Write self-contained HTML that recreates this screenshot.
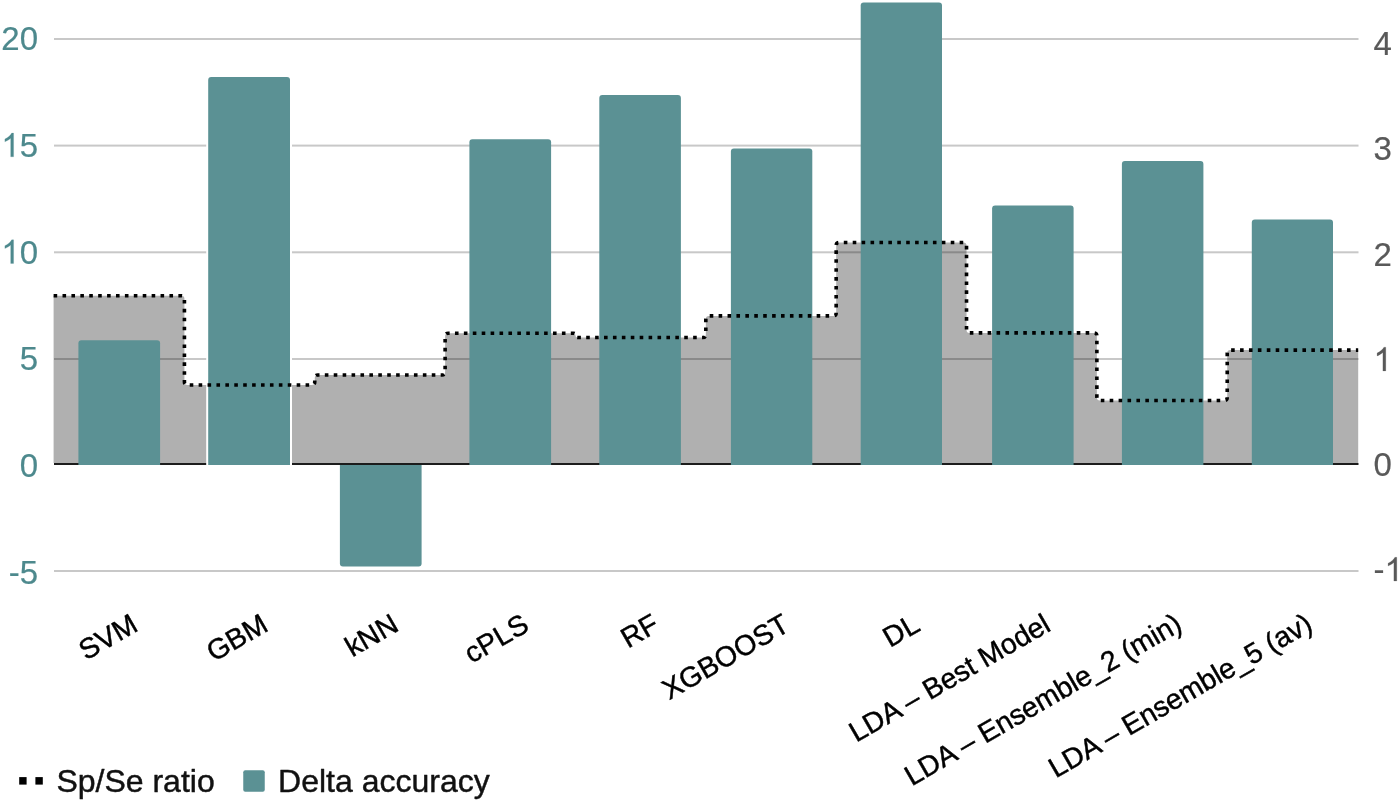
<!DOCTYPE html><html><head><meta charset="utf-8"><style>html,body{margin:0;padding:0;background:#fff;}svg{display:block;will-change:transform;font-family:"Liberation Sans",sans-serif;} text{stroke-width:0.45px;stroke-linejoin:round;}</style></head><body>
<svg width="1400" height="802" viewBox="0 0 1400 802">
<rect x="54" y="38" width="1304.5" height="2" fill="#c8c8c8"/>
<rect x="54" y="144.6" width="1304.5" height="2" fill="#c8c8c8"/>
<rect x="54" y="251.3" width="1304.5" height="2" fill="#c8c8c8"/>
<rect x="54" y="358" width="1304.5" height="2" fill="#c8c8c8"/>
<rect x="54" y="570" width="1304.5" height="2" fill="#c8c8c8"/>
<path d="M53.6,463 L53.6,295.8 H181.42 Q184.42,295.8 184.42,298.8 V382 Q184.42,385 187.42,385 H311.77 Q314.77,385 314.77,382 V378 Q314.77,375 317.77,375 H442.12 Q445.12,375 445.12,372 V336.3 Q445.12,333.3 448.12,333.3 H573.37 Q575.47,333.3 575.47,335.4 V335.4 Q575.47,337.5 577.57,337.5 H702.82 Q705.82,337.5 705.82,334.5 V318.9 Q705.82,315.9 708.82,315.9 H833.17 Q836.17,315.9 836.17,312.9 V245.5 Q836.17,242.5 839.17,242.5 H963.52 Q966.52,242.5 966.52,245.5 V329.9 Q966.52,332.9 969.52,332.9 H1093.87 Q1096.87,332.9 1096.87,335.9 V397.5 Q1096.87,400.5 1099.87,400.5 H1224.22 Q1227.22,400.5 1227.22,397.5 V353.1 Q1227.22,350.1 1230.22,350.1 H1358.2 V463 Z" fill="#000" fill-opacity="0.31"/>
<rect x="54" y="463" width="1304.5" height="2" fill="#1c1c1c"/>
<path d="M78.4,465 V343.2 Q78.4,340.2 81.4,340.2 H157.1 Q160.1,340.2 160.1,343.2 V465 Z" fill="#5b9194"/>
<path d="M208.2,465 V80.1 Q208.2,77.1 211.2,77.1 H287 Q290,77.1 290,80.1 V465 Z" fill="#5b9194" stroke="#fff" stroke-width="4" paint-order="stroke"/>
<path d="M339.9,465 V563.4 Q339.9,566.4 342.9,566.4 H418.6 Q421.6,566.4 421.6,563.4 V465 Z" fill="#5b9194"/>
<path d="M469.4,465 V142.3 Q469.4,139.3 472.4,139.3 H548.1 Q551.1,139.3 551.1,142.3 V465 Z" fill="#5b9194"/>
<path d="M599.3,465 V98 Q599.3,95 602.3,95 H677.9 Q680.9,95 680.9,98 V465 Z" fill="#5b9194"/>
<path d="M730.9,465 V151.4 Q730.9,148.4 733.9,148.4 H809.3 Q812.3,148.4 812.3,151.4 V465 Z" fill="#5b9194"/>
<path d="M860.7,465 V5.4 Q860.7,2.4 863.7,2.4 H939 Q942,2.4 942,5.4 V465 Z" fill="#5b9194"/>
<path d="M992.1,465 V208.4 Q992.1,205.4 995.1,205.4 H1070.6 Q1073.6,205.4 1073.6,208.4 V465 Z" fill="#5b9194"/>
<path d="M1121.9,465 V164.1 Q1121.9,161.1 1124.9,161.1 H1200.4 Q1203.4,161.1 1203.4,164.1 V465 Z" fill="#5b9194"/>
<path d="M1251.8,465 V222.5 Q1251.8,219.5 1254.8,219.5 H1330 Q1333,219.5 1333,222.5 V465 Z" fill="#5b9194"/>
<path d="M53.6,295.8 H181.42 Q184.42,295.8 184.42,298.8 V382 Q184.42,385 187.42,385 H311.77 Q314.77,385 314.77,382 V378 Q314.77,375 317.77,375 H442.12 Q445.12,375 445.12,372 V336.3 Q445.12,333.3 448.12,333.3 H573.37 Q575.47,333.3 575.47,335.4 V335.4 Q575.47,337.5 577.57,337.5 H702.82 Q705.82,337.5 705.82,334.5 V318.9 Q705.82,315.9 708.82,315.9 H833.17 Q836.17,315.9 836.17,312.9 V245.5 Q836.17,242.5 839.17,242.5 H963.52 Q966.52,242.5 966.52,245.5 V329.9 Q966.52,332.9 969.52,332.9 H1093.87 Q1096.87,332.9 1096.87,335.9 V397.5 Q1096.87,400.5 1099.87,400.5 H1224.22 Q1227.22,400.5 1227.22,397.5 V353.1 Q1227.22,350.1 1230.22,350.1 H1358.2" fill="none" stroke="#000" stroke-width="3.6" stroke-dasharray="3.6 5.312"/>
<text x="38" y="50.4" font-size="33" fill="#4d898d" stroke="#4d898d" text-anchor="end" class="t" style="stroke-width:0.2px">20</text>
<path transform="translate(1.29,156.8) scale(0.016113,-0.016113)" d="M763 0H583V1147Q518 1085 412 1023Q307 961 223 930V1104Q374 1175 487 1276Q600 1377 647 1472H763Z" fill="#4d898d" stroke="#4d898d" stroke-width="12.41" stroke-linejoin="round"/>
<text x="38" y="156.8" font-size="33" fill="#4d898d" stroke="#4d898d" text-anchor="end" class="t" style="stroke-width:0.2px">5</text>
<path transform="translate(1.29,263.5) scale(0.016113,-0.016113)" d="M763 0H583V1147Q518 1085 412 1023Q307 961 223 930V1104Q374 1175 487 1276Q600 1377 647 1472H763Z" fill="#4d898d" stroke="#4d898d" stroke-width="12.41" stroke-linejoin="round"/>
<text x="38" y="263.5" font-size="33" fill="#4d898d" stroke="#4d898d" text-anchor="end" class="t" style="stroke-width:0.2px">0</text>
<text x="38" y="370.1" font-size="33" fill="#4d898d" stroke="#4d898d" text-anchor="end" class="t" style="stroke-width:0.2px">5</text>
<text x="38" y="476.6" font-size="33" fill="#4d898d" stroke="#4d898d" text-anchor="end" class="t" style="stroke-width:0.2px">0</text>
<text x="38" y="583.9" font-size="33" fill="#4d898d" stroke="#4d898d" text-anchor="end" class="t" style="stroke-width:0.2px">-5</text>
<text x="1373.5" y="55" font-size="33" fill="#595959" stroke="#595959" class="t" style="stroke-width:0.2px">4</text>
<text x="1373.5" y="160.4" font-size="33" fill="#595959" stroke="#595959" class="t" style="stroke-width:0.2px">3</text>
<text x="1373.5" y="265.8" font-size="33" fill="#595959" stroke="#595959" class="t" style="stroke-width:0.2px">2</text>
<path transform="translate(1373.5,370.9) scale(0.016113,-0.016113)" d="M763 0H583V1147Q518 1085 412 1023Q307 961 223 930V1104Q374 1175 487 1276Q600 1377 647 1472H763Z" fill="#595959" stroke="#595959" stroke-width="12.41" stroke-linejoin="round"/>
<text x="1373.5" y="475.9" font-size="33" fill="#595959" stroke="#595959" class="t" style="stroke-width:0.2px">0</text>
<text x="1373.5" y="581" font-size="33" fill="#595959" stroke="#595959" class="t" style="stroke-width:0.2px">-</text>
<path transform="translate(1384.49,581) scale(0.016113,-0.016113)" d="M763 0H583V1147Q518 1085 412 1023Q307 961 223 930V1104Q374 1175 487 1276Q600 1377 647 1472H763Z" fill="#595959" stroke="#595959" stroke-width="12.41" stroke-linejoin="round"/>
<text transform="translate(139.55,629.8) rotate(-30)" font-size="28.5" fill="#000" stroke="#000" text-anchor="end">SVM</text>
<text transform="translate(269.9,629.8) rotate(-30)" font-size="28.5" fill="#000" stroke="#000" text-anchor="end">GBM</text>
<text transform="translate(400.25,629.8) rotate(-30)" font-size="28.5" fill="#000" stroke="#000" text-anchor="end">kNN</text>
<text transform="translate(530.6,629.8) rotate(-30)" font-size="28.5" fill="#000" stroke="#000" text-anchor="end">cPLS</text>
<text transform="translate(660.95,629.8) rotate(-30)" font-size="28.5" fill="#000" stroke="#000" text-anchor="end">RF</text>
<text transform="translate(791.3,629.8) rotate(-30)" font-size="28.5" fill="#000" stroke="#000" text-anchor="end">XGBOOST</text>
<text transform="translate(921.65,629.8) rotate(-30)" font-size="28.5" fill="#000" stroke="#000" text-anchor="end">DL</text>
<text transform="translate(1052,629.8) rotate(-30)" font-size="28.5" fill="#000" stroke="#000" text-anchor="end" letter-spacing="-0.13">LDA – Best Model</text>
<text transform="translate(1183.65,629.4) rotate(-30)" font-size="28.5" fill="#000" stroke="#000" text-anchor="end" letter-spacing="-0.13">LDA – Ensemble_2 (min)</text>
<text transform="translate(1314,629.4) rotate(-30)" font-size="28.5" fill="#000" stroke="#000" text-anchor="end" letter-spacing="-0.13">LDA – Ensemble_5 (av)</text>
<rect x="19.2" y="777.1" width="7.4" height="7.5" fill="#000"/>
<rect x="35.4" y="777.1" width="7.4" height="7.5" fill="#000"/>
<text x="56.4" y="792.3" font-size="32" fill="#111" stroke="#111">Sp/Se ratio</text>
<rect x="243.25" y="770.25" width="21.5" height="21.5" rx="2" fill="#5b9194"/>
<text x="278.1" y="792.3" font-size="32" fill="#111" stroke="#111">Delta accuracy</text>
</svg></body></html>
